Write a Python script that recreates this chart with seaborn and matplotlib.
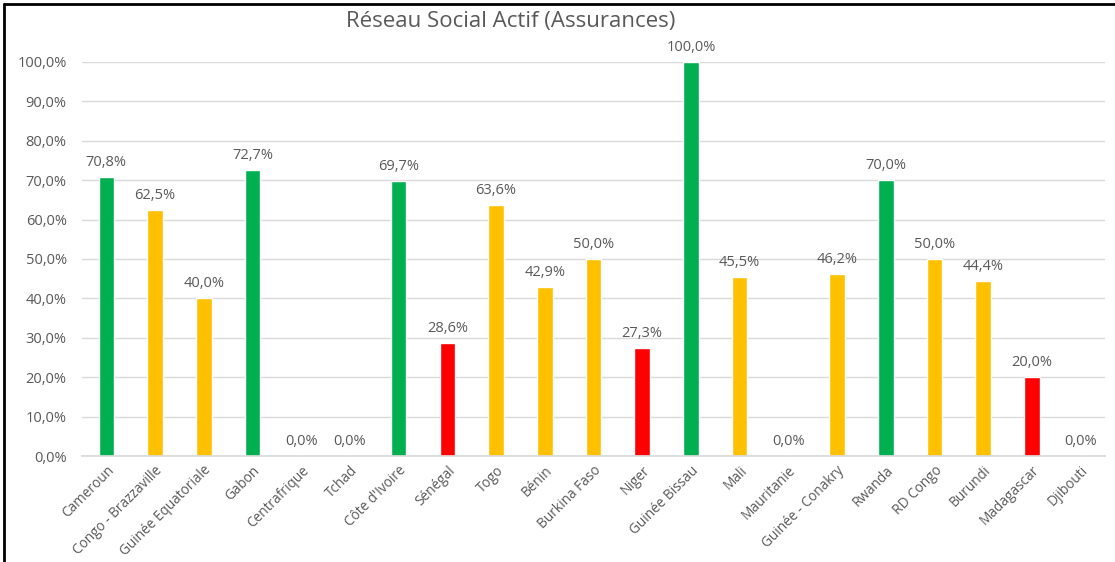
import matplotlib
matplotlib.use("Agg")
import matplotlib.pyplot as plt
import seaborn as sns
import pandas as pd
from matplotlib.lines import Line2D
from matplotlib.ticker import FuncFormatter

countries = ["Cameroun", "Congo - Brazzaville", "Guinée Equatoriale", "Gabon", "Centrafrique",
             "Tchad", "Côte d'Ivoire", "Sénégal", "Togo", "Bénin", "Burkina Faso", "Niger",
             "Guinée Bissau", "Mali", "Mauritanie", "Guinée - Conakry", "Rwanda", "RD Congo",
             "Burundi", "Madagascar", "Djibouti"]
values = [70.8, 62.5, 40.0, 72.7, 0.0, 0.0, 69.7, 28.6, 63.6, 42.9, 50.0, 27.3,
          100.0, 45.5, 0.0, 46.2, 70.0, 50.0, 44.4, 20.0, 0.0]
levels = ["g", "y", "y", "g", "y", "y", "g", "r", "y", "y", "y", "r",
          "g", "y", "y", "y", "g", "y", "y", "r", "y"]
level_colors = {"g": "#00B050", "y": "#FFC000", "r": "#FF0000"}

sns.set_theme(style="white")
plt.rcParams["font.family"] = ["Open Sans", "DejaVu Sans"]
txt = "#595959"

df = pd.DataFrame({"country": countries, "value": values})
palette = {c: level_colors[l] for c, l in zip(countries, levels)}

fig = plt.figure(figsize=(11.15, 5.62), dpi=100)
ax = fig.add_axes([0.0735, 0.1886, 0.9175, 0.7011])
sns.barplot(data=df, x="country", y="value", hue="country", palette=palette,
            legend=False, width=0.32, saturation=1, ax=ax)

ax.set_ylim(0, 100)
ax.set_xlim(-0.5, len(countries) - 0.5)
ax.set_yticks(range(0, 101, 10))
ax.yaxis.set_major_formatter(FuncFormatter(lambda v, p: f"{v:.1f}%".replace(".", ",")))
ax.grid(axis="y", color="#D9D9D9", linewidth=1)
ax.set_axisbelow(True)
for s in ["top", "right", "left"]:
    ax.spines[s].set_visible(False)
ax.spines["bottom"].set_color("#D9D9D9")
ax.tick_params(axis="y", colors=txt, labelsize=10.5, length=0, pad=11)
ax.tick_params(axis="x", colors=txt, labelsize=9.8, length=0, pad=5)
plt.setp(ax.get_xticklabels(), rotation=45, ha="right", rotation_mode="anchor")
ax.set_xlabel("")
ax.set_ylabel("")

for i, v in enumerate(values):
    ax.annotate(f"{v:.1f}%".replace(".", ","), (i, v), xytext=(0, 5),
                textcoords="offset points", ha="center", va="bottom",
                color=txt, fontsize=10.5, annotation_clip=False)

fig.text(0.458, 0.962, "Réseau Social Actif (Assurances)", ha="center", va="center",
         fontsize=16, color=txt)

fig.add_artist(Line2D([0.004, 0.004], [0, 0.993], color="black", linewidth=2,
                      transform=fig.transFigure))
fig.add_artist(Line2D([0.004, 1], [0.993, 0.993], color="black", linewidth=2,
                      transform=fig.transFigure))

fig.savefig("out.png", dpi=100)
